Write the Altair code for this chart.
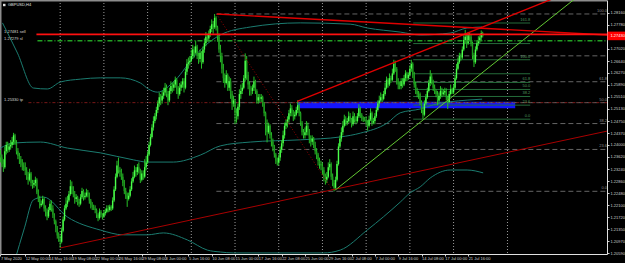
import json
import altair as alt
import pandas as pd

# ---------------- data ----------------
FIRST_OPEN = 1.2370
CLOSES = [
    1.2360, 1.2340, 1.2330, 1.2380, 1.2400,
    1.2385, 1.2395, 1.2400, 1.2410, 1.2430, 1.2405,
    1.2380, 1.2365, 1.2355, 1.2345, 1.2335, 1.2330,
    1.2320, 1.2300, 1.2290, 1.2310, 1.2280, 1.2275,
    1.2280, 1.2290, 1.2250, 1.2230, 1.2210, 1.2215,
    1.2230, 1.2200, 1.2190, 1.2175, 1.2195, 1.2215,
    1.2200, 1.2180, 1.2160, 1.2140, 1.2115, 1.2105,
    1.2095, 1.2130, 1.2165, 1.2200, 1.2215, 1.2225,
    1.2245, 1.2270, 1.2260, 1.2245, 1.2230, 1.2235,
    1.2220, 1.2215, 1.2235, 1.2255, 1.2235, 1.2240,
    1.2250, 1.2245, 1.2225, 1.2210, 1.2205, 1.2200,
    1.2195, 1.2180, 1.2170, 1.2190, 1.2180, 1.2175,
    1.2185, 1.2190, 1.2200, 1.2195, 1.2205, 1.2200,
    1.2225, 1.2260, 1.2300, 1.2335, 1.2320, 1.2315,
    1.2300, 1.2280, 1.2255, 1.2245, 1.2230, 1.2240,
    1.2260, 1.2285, 1.2300, 1.2320, 1.2315, 1.2330,
    1.2320, 1.2290, 1.2310, 1.2300, 1.2330, 1.2345,
    1.2370, 1.2400, 1.2425, 1.2455, 1.2475, 1.2490,
    1.2510, 1.2530, 1.2550, 1.2540, 1.2555, 1.2565,
    1.2580, 1.2560, 1.2540, 1.2570, 1.2585, 1.2580,
    1.2590, 1.2605, 1.2575, 1.2560, 1.2580, 1.2590,
    1.2600, 1.2580, 1.2630, 1.2655, 1.2660, 1.2665,
    1.2680, 1.2700, 1.2690, 1.2710, 1.2680, 1.2670,
    1.2690, 1.2660, 1.2700, 1.2720, 1.2740, 1.2735,
    1.2750, 1.2765, 1.2780, 1.2770, 1.2800, 1.2770,
    1.2740, 1.2700, 1.2680, 1.2640, 1.2610, 1.2595,
    1.2620, 1.2580, 1.2600, 1.2560, 1.2530, 1.2540,
    1.2500, 1.2490, 1.2520, 1.2560, 1.2570, 1.2580,
    1.2610, 1.2665, 1.2620, 1.2590, 1.2570, 1.2570,
    1.2580, 1.2600, 1.2570, 1.2540, 1.2550, 1.2545,
    1.2550, 1.2530, 1.2500, 1.2465, 1.2440, 1.2460,
    1.2430, 1.2410, 1.2395, 1.2370, 1.2350, 1.2345,
    1.2360, 1.2385, 1.2405, 1.2430, 1.2460, 1.2470,
    1.2480, 1.2500, 1.2515, 1.2505, 1.2490, 1.2495,
    1.2510, 1.2525, 1.2500, 1.2470, 1.2440, 1.2430,
    1.2440, 1.2460, 1.2445, 1.2420, 1.2410, 1.2420,
    1.2400, 1.2380, 1.2370, 1.2350, 1.2340, 1.2335,
    1.2320, 1.2300, 1.2290, 1.2300, 1.2330, 1.2340,
    1.2300, 1.2280, 1.2265, 1.2290, 1.2340, 1.2395,
    1.2420, 1.2440, 1.2460, 1.2480, 1.2470, 1.2475,
    1.2490, 1.2480, 1.2465, 1.2490, 1.2480, 1.2475,
    1.2490, 1.2515, 1.2495, 1.2485, 1.2480, 1.2480,
    1.2470, 1.2460, 1.2480, 1.2500, 1.2470, 1.2475,
    1.2490, 1.2510, 1.2530, 1.2540, 1.2550, 1.2545,
    1.2560, 1.2580, 1.2605, 1.2590, 1.2610, 1.2605,
    1.2625, 1.2655, 1.2640, 1.2600, 1.2590, 1.2585,
    1.2600, 1.2590, 1.2610, 1.2625, 1.2610, 1.2620,
    1.2640, 1.2655, 1.2620, 1.2590, 1.2570, 1.2560,
    1.2560, 1.2535, 1.2510, 1.2495, 1.2530, 1.2550,
    1.2570, 1.2595, 1.2615, 1.2600, 1.2580, 1.2570,
    1.2560, 1.2540, 1.2555, 1.2570, 1.2560, 1.2565,
    1.2570, 1.2550, 1.2535, 1.2560, 1.2575, 1.2565,
    1.2580, 1.2610, 1.2640, 1.2660, 1.2680, 1.2675,
    1.2700, 1.2730, 1.2740, 1.2720, 1.2745, 1.2740,
    1.2720, 1.2680, 1.2660, 1.2700, 1.2720, 1.2730,
    1.2738, 1.2752, 1.2743,
]
HIGHS = [
    1.2385, 1.2370, 1.2355, 1.2395, 1.2410,
    1.2410, 1.2405, 1.2415, 1.2425, 1.2438, 1.2435,
    1.2415, 1.2390, 1.2375, 1.2365, 1.2355, 1.2345,
    1.2345, 1.2330, 1.2315, 1.2325, 1.2315, 1.2290,
    1.2290, 1.2300, 1.2295, 1.2260, 1.2240, 1.2225,
    1.2240, 1.2235, 1.2210, 1.2200, 1.2205, 1.2225,
    1.2225, 1.2210, 1.2185, 1.2165, 1.2145, 1.2125,
    1.2115, 1.2140, 1.2175, 1.2210, 1.2235, 1.2240,
    1.2255, 1.2290, 1.2285, 1.2270, 1.2255, 1.2245,
    1.2240, 1.2230, 1.2245, 1.2265, 1.2260, 1.2250,
    1.2262, 1.2258, 1.2250, 1.2230, 1.2220, 1.2212,
    1.2210, 1.2200, 1.2185, 1.2200, 1.2195, 1.2185,
    1.2195, 1.2200, 1.2210, 1.2210, 1.2212, 1.2210,
    1.2235, 1.2270, 1.2310, 1.2350, 1.2360, 1.2330,
    1.2325, 1.2310, 1.2290, 1.2265, 1.2250, 1.2250,
    1.2270, 1.2295, 1.2315, 1.2335, 1.2330, 1.2340,
    1.2345, 1.2325, 1.2320, 1.2320, 1.2355, 1.2365,
    1.2380, 1.2410, 1.2435, 1.2465, 1.2490, 1.2500,
    1.2520, 1.2540, 1.2565, 1.2560, 1.2570, 1.2580,
    1.2595, 1.2590, 1.2570, 1.2580, 1.2600, 1.2595,
    1.2600, 1.2615, 1.2610, 1.2585, 1.2595, 1.2600,
    1.2610, 1.2610, 1.2640, 1.2670, 1.2675, 1.2680,
    1.2700, 1.2715, 1.2710, 1.2728, 1.2715, 1.2690,
    1.2700, 1.2695, 1.2710, 1.2735, 1.2755, 1.2750,
    1.2760, 1.2775, 1.2795, 1.2790, 1.2812, 1.2805,
    1.2775, 1.2750, 1.2715, 1.2690, 1.2655, 1.2625,
    1.2635, 1.2625, 1.2615, 1.2610, 1.2570, 1.2555,
    1.2545, 1.2515, 1.2530, 1.2575, 1.2590, 1.2595,
    1.2620, 1.2688, 1.2680, 1.2630, 1.2600, 1.2585,
    1.2590, 1.2615, 1.2605, 1.2575, 1.2560, 1.2560,
    1.2560, 1.2555, 1.2535, 1.2505, 1.2480, 1.2470,
    1.2465, 1.2440, 1.2420, 1.2400, 1.2375, 1.2360,
    1.2370, 1.2395, 1.2415, 1.2445, 1.2470, 1.2480,
    1.2490, 1.2510, 1.2530, 1.2525, 1.2510, 1.2505,
    1.2520, 1.2540, 1.2530, 1.2505, 1.2475, 1.2450,
    1.2455, 1.2475, 1.2470, 1.2450, 1.2430, 1.2430,
    1.2425, 1.2410, 1.2390, 1.2375, 1.2360, 1.2350,
    1.2345, 1.2330, 1.2310, 1.2315, 1.2345, 1.2355,
    1.2345, 1.2310, 1.2290, 1.2300, 1.2350, 1.2405,
    1.2430, 1.2455, 1.2475, 1.2495, 1.2490, 1.2485,
    1.2505, 1.2500, 1.2485, 1.2505, 1.2500, 1.2490,
    1.2500, 1.2528, 1.2520, 1.2500, 1.2490, 1.2488,
    1.2490, 1.2478, 1.2492, 1.2515, 1.2505, 1.2485,
    1.2500, 1.2520, 1.2540, 1.2555, 1.2565, 1.2560,
    1.2570, 1.2595, 1.2615, 1.2610, 1.2625, 1.2618,
    1.2640, 1.2668, 1.2665, 1.2645, 1.2610, 1.2600,
    1.2610, 1.2610, 1.2620, 1.2635, 1.2630, 1.2628,
    1.2650, 1.2668, 1.2660, 1.2630, 1.2600, 1.2580,
    1.2570, 1.2565, 1.2540, 1.2520, 1.2540, 1.2560,
    1.2580, 1.2605, 1.2635, 1.2625, 1.2605, 1.2590,
    1.2575, 1.2570, 1.2565, 1.2585, 1.2580, 1.2575,
    1.2580, 1.2578, 1.2555, 1.2570, 1.2590, 1.2580,
    1.2590, 1.2620, 1.2655, 1.2675, 1.2690, 1.2688,
    1.2710, 1.2745, 1.2762, 1.2750, 1.2755, 1.2752,
    1.2748, 1.2725, 1.2690, 1.2710, 1.2730, 1.2742,
    1.2745, 1.2760, 1.2756,
]
LOWS = [
    1.2345, 1.2330, 1.2315, 1.2325, 1.2370,
    1.2375, 1.2378, 1.2385, 1.2390, 1.2400, 1.2400,
    1.2370, 1.2355, 1.2340, 1.2330, 1.2320, 1.2318,
    1.2305, 1.2290, 1.2275, 1.2285, 1.2270, 1.2262,
    1.2265, 1.2270, 1.2245, 1.2220, 1.2200, 1.2205,
    1.2210, 1.2190, 1.2175, 1.2163, 1.2170, 1.2190,
    1.2190, 1.2170, 1.2150, 1.2125, 1.2105, 1.2095,
    1.2076, 1.2090, 1.2125, 1.2160, 1.2195, 1.2205,
    1.2220, 1.2240, 1.2245, 1.2235, 1.2215, 1.2220,
    1.2210, 1.2205, 1.2210, 1.2230, 1.2225, 1.2228,
    1.2235, 1.2235, 1.2215, 1.2200, 1.2195, 1.2195,
    1.2185, 1.2170, 1.2160, 1.2165, 1.2172, 1.2165,
    1.2170, 1.2178, 1.2185, 1.2188, 1.2190, 1.2192,
    1.2195, 1.2220, 1.2255, 1.2295, 1.2310, 1.2300,
    1.2290, 1.2270, 1.2245, 1.2230, 1.2205, 1.2225,
    1.2235, 1.2255, 1.2280, 1.2295, 1.2300, 1.2305,
    1.2310, 1.2280, 1.2285, 1.2290, 1.2295, 1.2320,
    1.2340, 1.2365, 1.2395, 1.2420, 1.2445, 1.2468,
    1.2480, 1.2500, 1.2520, 1.2525, 1.2530, 1.2545,
    1.2555, 1.2550, 1.2525, 1.2535, 1.2560, 1.2565,
    1.2570, 1.2580, 1.2560, 1.2545, 1.2555, 1.2570,
    1.2580, 1.2565, 1.2575, 1.2620, 1.2640, 1.2650,
    1.2660, 1.2670, 1.2675, 1.2685, 1.2670, 1.2655,
    1.2660, 1.2640, 1.2655, 1.2690, 1.2710, 1.2725,
    1.2725, 1.2740, 1.2755, 1.2750, 1.2765, 1.2760,
    1.2725, 1.2690, 1.2660, 1.2625, 1.2595, 1.2580,
    1.2590, 1.2570, 1.2570, 1.2545, 1.2510, 1.2520,
    1.2465, 1.2470, 1.2480, 1.2510, 1.2545, 1.2560,
    1.2575, 1.2600, 1.2605, 1.2575, 1.2555, 1.2555,
    1.2560, 1.2570, 1.2560, 1.2530, 1.2530, 1.2535,
    1.2535, 1.2520, 1.2490, 1.2430, 1.2408, 1.2435,
    1.2420, 1.2395, 1.2380, 1.2360, 1.2340, 1.2335,
    1.2335, 1.2350, 1.2375, 1.2395, 1.2420, 1.2450,
    1.2455, 1.2470, 1.2490, 1.2490, 1.2475, 1.2480,
    1.2490, 1.2500, 1.2490, 1.2460, 1.2430, 1.2420,
    1.2420, 1.2430, 1.2430, 1.2405, 1.2395, 1.2400,
    1.2390, 1.2370, 1.2355, 1.2335, 1.2325, 1.2320,
    1.2305, 1.2285, 1.2275, 1.2280, 1.2295, 1.2320,
    1.2290, 1.2270, 1.2254, 1.2260, 1.2285, 1.2335,
    1.2390, 1.2410, 1.2430, 1.2455, 1.2460, 1.2462,
    1.2470, 1.2470, 1.2455, 1.2460, 1.2470, 1.2465,
    1.2470, 1.2485, 1.2485, 1.2475, 1.2472, 1.2474,
    1.2460, 1.2445, 1.2455, 1.2475, 1.2460, 1.2465,
    1.2465, 1.2485, 1.2505, 1.2520, 1.2535, 1.2535,
    1.2540, 1.2555, 1.2575, 1.2580, 1.2585, 1.2595,
    1.2600, 1.2620, 1.2630, 1.2590, 1.2575, 1.2575,
    1.2575, 1.2580, 1.2585, 1.2600, 1.2600, 1.2605,
    1.2615, 1.2630, 1.2610, 1.2580, 1.2560, 1.2550,
    1.2545, 1.2525, 1.2500, 1.2481, 1.2490, 1.2525,
    1.2545, 1.2565, 1.2585, 1.2590, 1.2570, 1.2560,
    1.2550, 1.2525, 1.2530, 1.2545, 1.2550, 1.2555,
    1.2555, 1.2540, 1.2513, 1.2530, 1.2555, 1.2560,
    1.2560, 1.2575, 1.2605, 1.2635, 1.2655, 1.2665,
    1.2670, 1.2695, 1.2720, 1.2705, 1.2715, 1.2728,
    1.2710, 1.2670, 1.2645, 1.2655, 1.2695, 1.2712,
    1.2720, 1.2730, 1.2738,
]

X_LABEL_BARS = [0, 17, 33, 49, 65, 81, 97, 113, 129, 145, 161, 177, 193, 209,
                225, 241, 257, 273, 289, 305, 321]
X_LABELS = ["7 May 2020", "12 May 00:00", "14 May 16:00", "19 May 08:00",
            "22 May 00:00", "26 May 16:00", "29 May 08:00", "3 Jun 00:00",
            "5 Jun 16:00", "10 Jun 08:00", "15 Jun 00:00", "17 Jun 16:00",
            "22 Jun 08:00", "25 Jun 00:00", "29 Jun 16:00", "2 Jul 08:00",
            "7 Jul 00:00", "9 Jul 16:00", "14 Jul 08:00", "17 Jul 00:00",
            "21 Jul 16:00"]
Y_TICKS = [1.28160, 1.27780, 1.27400, 1.27020, 1.26640, 1.26270, 1.25890,
           1.25510, 1.25130, 1.24750, 1.24370, 1.24000, 1.23620, 1.23240,
           1.22860, 1.22480, 1.22100, 1.21720, 1.21350, 1.20970, 1.20590]
GRID_BARS = [41, 71, 101, 131, 161, 191, 221, 251, 281, 311, 348]

UPPER_BARS = [1.4, 11.7, 22.6, 32.2, 41.2, 54.9, 68.6, 82.3, 96.0, 101.5, 107.7,
              120.0, 133.8, 150.9, 171.5, 205.8, 240.0, 251.7, 274.4, 288.1,
              308.7, 320.3, 330.6]
UPPER = [1.2784, 1.2689, 1.2579, 1.2576, 1.2598, 1.2607, 1.2611, 1.2611, 1.2595,
         1.2576, 1.2566, 1.2604, 1.2683, 1.2746, 1.2771, 1.2784, 1.2780, 1.2768,
         1.2755, 1.2746, 1.2752, 1.2768, 1.2771]
MIDDLE_BARS = [0.0, 8.9, 27.4, 46.0, 68.6, 91.2, 100.8, 118.7, 137.2, 150.9,
               171.5, 205.8, 233.2, 247.0, 265.5, 274.4, 288.1, 297.0, 320.3, 330.6]
MIDDLE = [1.2390, 1.2406, 1.2409, 1.2390, 1.2375, 1.2353, 1.2346, 1.2346, 1.2368,
          1.2397, 1.2409, 1.2416, 1.2425, 1.2437, 1.2469, 1.2501, 1.2513, 1.2526,
          1.2541, 1.2544]
LOWER_BARS = [9.6, 16.5, 22.6, 29.5, 46.0, 68.6, 84.4, 100.8, 111.8, 128.3, 142.0,
              150.9, 159.8, 221.6, 233.2, 251.7, 274.4, 281.2, 288.1, 295.0,
              308.7, 320.3, 331.3]
LOWER = [1.2032, 1.2139, 1.2227, 1.2236, 1.2173, 1.2132, 1.2117, 1.2117, 1.2123,
         1.2101, 1.2069, 1.2063, 1.2060, 1.2060, 1.2069, 1.2132, 1.2220, 1.2249,
         1.2268, 1.2296, 1.2321, 1.2321, 1.2312]

# trend lines: name, bar0, price0, bar1, price1
TREND_NAMES = ["redA", "redB", "redC", "fibdiag", "greenE"]
TREND_BAR0 = [148.6, 203.7, 41.2, 148.2, 229.8]
TREND_P0 = [1.2812, 1.2537, 1.2076, 1.2812, 1.2258]
TREND_BAR1 = [420.0, 393.8, 420.0, 228.4, 401.7]
TREND_P1 = [1.2745, 1.2887, 1.2447, 1.2254, 1.2887]

FIB1_PRICES = [1.2254, 1.23857, 1.24672, 1.2533, 1.25988, 1.26803, 1.2812]
FIB1_LABELS = ["0.0", "23.6", "38.2", "50.0", "61.8", "", "100.0"]
FIB1_START, FIB1_END = 148.2, 416.3
FIB2_PRICES = [1.2481, 1.25251, 1.25524, 1.25745, 1.25966, 1.26239, 1.2668,
               1.27189, 1.27836]
FIB2_LABELS = ["0.0", "23.6", "38.2", "50.0", "61.8", "", "100.0", "", "161.8"]
FIB2_START, FIB2_END = 283.3, 363.6

ZONE_BARS = [203.7, 353.3]
ZONE_PRICES = [1.25152, 1.25360]

H_NAMES = ["sell", "sl", "tp"]
H_PRICES = [1.27481, 1.27279, 1.25330]
H_START = [24.7, 25.4, 19.2]
H_TEXTS = ["1.27481 sell", "1.27279 sl", "1.25330 tp"]
H_TEXT_PRICES = [1.27559, 1.27333, 1.25398]
CURRENT_PRICE = 1.27430

# ---------------- chart ----------------
W, H = 607, 254
XS = alt.Scale(domain=[-0.3, 416.3], nice=False, zero=False)
YS = alt.Scale(domain=[1.20567, 1.2856], nice=False, zero=False)
FONT = "Liberation Sans"

x_expr = "%s[indexof(%s, datum.value)]" % (json.dumps(X_LABELS), json.dumps(X_LABEL_BARS))
X_AXIS = alt.Axis(values=X_LABEL_BARS, labelExpr=x_expr, labelAlign="left",
                  labelBaseline="top", labelPadding=0, labelFontSize=4,
                  labelFont=FONT, labelColor="#d0d0d0", tickColor="#d0d0d0",
                  tickSize=2, domainColor="#e0e0e0", grid=False,
                  labelOverlap=False, labelFlush=False, labelBound=False, title=None)
Y_AXIS = alt.Axis(orient="right", values=Y_TICKS, format=".5f", labelFontSize=4,
                  labelFont=FONT, labelColor="#d0d0d0", tickColor="#d0d0d0",
                  tickSize=2, labelPadding=1, domainColor="#e0e0e0", grid=False,
                  labelOverlap=False, labelFlush=False, labelBound=False,
                  labelBaseline="middle", title=None)


def X(f):
    return alt.X(f, type="quantitative", scale=XS, axis=X_AXIS, title=None)


def Y(f):
    return alt.Y(f, type="quantitative", scale=YS, axis=Y_AXIS, title=None)


n = len(CLOSES)
opens = [FIRST_OPEN] + CLOSES[:-1]
candles = pd.DataFrame({
    "bar": list(range(n)), "open": opens, "close": CLOSES,
    "high": [max(h, o, c) for h, o, c in zip(HIGHS, opens, CLOSES)],
    "low": [min(l, o, c) for l, o, c in zip(LOWS, opens, CLOSES)],
})
candles["dir"] = ["up" if c >= o else "down" for o, c in zip(opens, CLOSES)]

one = pd.DataFrame({"k": [0]})

frame_top = alt.Chart(one).mark_rect(color="#8c8c8c").encode(
    x=alt.value(0), x2=alt.value(W), y=alt.value(0), y2=alt.value(1.5))
frame_left = alt.Chart(one).mark_rect(color="#8c8c8c").encode(
    x=alt.value(0), x2=alt.value(1.5), y=alt.value(0), y2=alt.value(H))

grid = alt.Chart(pd.DataFrame({"bar": GRID_BARS})).mark_rule(
    color="#9a9a9a", strokeDash=[1, 2], strokeWidth=1).encode(
    x=X("bar"), y=alt.value(0), y2=alt.value(H))

zone = alt.Chart(pd.DataFrame({"b0": [ZONE_BARS[0]], "b1": [ZONE_BARS[1]],
                               "p0": [ZONE_PRICES[0]], "p1": [ZONE_PRICES[1]]})
                 ).mark_rect(color="#1414ff").encode(
    x=X("b0"), x2=alt.X2("b1"), y=Y("p0"), y2=alt.Y2("p1"))

fib1 = pd.DataFrame({"p": FIB1_PRICES, "t": FIB1_LABELS,
                     "b0": FIB1_START, "b1": FIB1_END})
fib1_lines = alt.Chart(fib1).mark_rule(color="#646464", strokeDash=[5, 3],
                                       strokeWidth=1).encode(
    x=X("b0"), x2=alt.X2("b1"), y=Y("p"))
fib1_text = alt.Chart(fib1).mark_text(align="right", baseline="bottom", dy=-1,
                                      fontSize=4, font=FONT, color="#8a8a8a").encode(
    x=X("b1"), y=Y("p"), text="t:N")

fib2 = pd.DataFrame({"p": FIB2_PRICES, "t": FIB2_LABELS,
                     "b0": FIB2_START, "b1": FIB2_END})
fib2_lines = alt.Chart(fib2).mark_rule(color="#256b3a", strokeWidth=1).encode(
    x=X("b0"), x2=alt.X2("b1"), y=Y("p"))
fib2_text = alt.Chart(fib2).mark_text(align="right", baseline="bottom", dy=-1,
                                      fontSize=4, font=FONT, color="#4f9a5f").encode(
    x=X("b1"), y=Y("p"), text="t:N")

hl = pd.DataFrame({"name": H_NAMES, "p": H_PRICES, "b0": H_START, "b1": 416.3,
                   "t": H_TEXTS, "tp": H_TEXT_PRICES, "tb": 2.5})
sell_line = alt.Chart(hl[hl.name == "sell"]).mark_rule(
    color="#ff1010", strokeWidth=1.8).encode(x=X("b0"), x2=alt.X2("b1"), y=Y("p"))
sl_line = alt.Chart(hl[hl.name == "sl"]).mark_rule(
    color="#23a023", strokeWidth=1.6, strokeDash=[5, 2, 1, 2]).encode(
    x=X("b0"), x2=alt.X2("b1"), y=Y("p"))
tp_line = alt.Chart(hl[hl.name == "tp"]).mark_rule(
    color="#7a1818", strokeWidth=1, strokeDash=[3, 2, 1, 2]).encode(
    x=X("b0"), x2=alt.X2("b1"), y=Y("p"))
h_text = alt.Chart(hl).mark_text(align="left", baseline="middle", fontSize=4,
                                 font=FONT, color="#d8d8d8").encode(
    x=X("tb"), y=Y("tp"), text="t:N")

bands = pd.concat([
    pd.DataFrame({"bar": UPPER_BARS, "p": UPPER, "band": "upper"}),
    pd.DataFrame({"bar": MIDDLE_BARS, "p": MIDDLE, "band": "middle"}),
    pd.DataFrame({"bar": LOWER_BARS, "p": LOWER, "band": "lower"}),
])
band_lines = alt.Chart(bands).mark_line(color="#1b7c70", strokeWidth=1,
                                        interpolate="monotone", clip=True).encode(
    x=X("bar"), y=Y("p"), detail="band:N")

wicks = alt.Chart(candles).mark_rule(color="#27c027", strokeWidth=1).encode(
    x=X("bar"), y=Y("low"), y2=alt.Y2("high"))
bodies = alt.Chart(candles).mark_rule(strokeWidth=1.4).encode(
    x=X("bar"), y=Y("open"), y2=alt.Y2("close"),
    color=alt.Color("dir:N", scale=alt.Scale(domain=["up", "down"],
                                             range=["#4cff4c", "#1f9a1f"]),
                    legend=None))

trend_rows = []
for nm, b0, p0, b1, p1 in zip(TREND_NAMES, TREND_BAR0, TREND_P0, TREND_BAR1, TREND_P1):
    trend_rows.append({"name": nm, "bar": b0, "p": p0})
    trend_rows.append({"name": nm, "bar": b1, "p": p1})
trends = pd.DataFrame(trend_rows)


def trend(nm, color, width, dash=None):
    kw = dict(color=color, strokeWidth=width, clip=True)
    if dash:
        kw["strokeDash"] = dash
    return alt.Chart(trends[trends.name == nm]).mark_line(**kw).encode(
        x=X("bar"), y=Y("p"))


red_a = trend("redA", "#e00000", 1.4)
red_b = trend("redB", "#e00000", 1.3)
red_c = trend("redC", "#a80000", 1)
fib_diag = trend("fibdiag", "#9a0000", 1, [1, 2])
green_e = trend("greenE", "#62c832", 1)

title = alt.Chart(one).mark_text(align="left", baseline="middle", fontSize=4,
                                 font=FONT, color="#e0e0e0").encode(
    x=alt.value(8), y=alt.value(5), text=alt.value("GBPUSD,H4"))
title_icon = alt.Chart(one).mark_rect(color="#e0e0e0").encode(
    x=alt.value(3), x2=alt.value(5.5), y=alt.value(3.8), y2=alt.value(6.2))

cur = pd.DataFrame({"p": [CURRENT_PRICE], "t": ["%.5f" % CURRENT_PRICE],
                    "p0": [CURRENT_PRICE - 0.00135], "p1": [CURRENT_PRICE + 0.00135]})
cur_box = alt.Chart(cur).mark_rect(color="#ff0000").encode(
    x=alt.value(W + 0.5), x2=alt.value(625), y=Y("p0"), y2=alt.Y2("p1"))
cur_text = alt.Chart(cur).mark_text(align="left", baseline="middle", fontSize=4,
                                    font=FONT, color="#ffffff").encode(
    x=alt.value(W + 3.5), y=Y("p"), text="t:N")

chart = alt.layer(
    frame_top, frame_left, grid, zone, fib1_lines, tp_line, fib2_lines,
    band_lines, wicks, bodies, red_c, fib_diag, green_e, red_a, red_b,
    sell_line, sl_line, fib1_text, fib2_text, h_text, title_icon, title,
    cur_box, cur_text,
).properties(
    width=W, height=H, background="#000000",
    padding={"left": 0, "top": 0, "right": 18, "bottom": 9},
    autosize=alt.AutoSizeParams(type="none"),
).configure_view(strokeWidth=0)

chart.save("out.html", embed_options={"renderer": "svg", "actions": False})
